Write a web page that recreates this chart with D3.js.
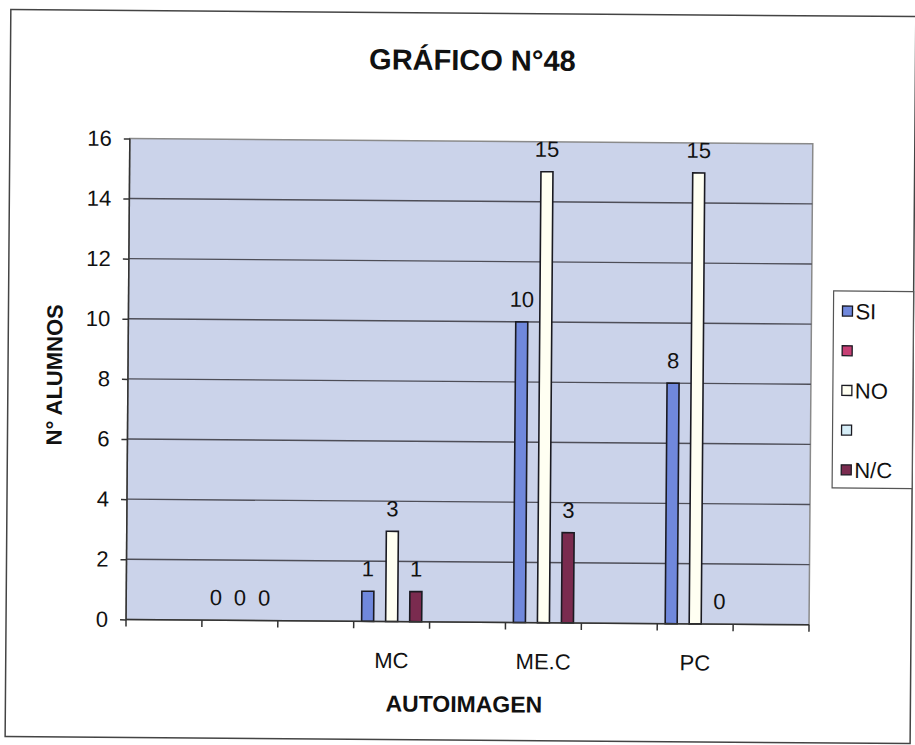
<!DOCTYPE html>
<html>
<head>
<meta charset="utf-8">
<script src="https://cdn.jsdelivr.net/npm/d3@7"></script>
<style>
  body { margin: 0; background: #fff; }
  svg text { font-family: "Liberation Sans", Arial, sans-serif; fill: #111; }
</style>
</head>
<body>
<svg class="chart" width="915" height="745"></svg>
<script>
// categories along the x axis (only three carry a label)
var categories = ["", "", "", "MC", "", "ME.C", "", "PC", ""];
var seriesNames = ["SI", "", "NO", "", "N/C"];
var seriesColors = ["#7088dc", "#c63f74", "#fffff2", "#d6eef8", "#7a2b4f"];

var siValues   = [null, 0, null, 1, null, 10, null, 8, null];
var pinkValues = [null, null, null, null, null, null, null, null, null];
var noValues   = [null, 0, null, 3, null, 15, null, 15, null];
var cyanValues = [null, null, null, null, null, null, null, null, null];
var ncValues   = [null, 0, null, 1, null, 3, null, 0, null];

var yTicks = [0, 2, 4, 6, 8, 10, 12, 14, 16];

var allSeries = [siValues, pinkValues, noValues, cyanValues, ncValues];

var svg = d3.select("svg.chart"),
    margin = {top: 141, left: 128},
    width = 683,
    height = 481;

// the scan is a little tilted
var root = svg.append("g").attr("transform", "rotate(0.45,457,372)");

root.append("rect")
    .attr("x", 8).attr("y", 13)
    .attr("width", 905).attr("height", 727)
    .attr("fill", "#fff")
    .attr("stroke", "#444")
    .attr("stroke-width", 1.5);

var g = root.append("g").attr("transform", "translate(" + margin.left + "," + margin.top + ")");

var x = d3.scaleBand()
    .domain(d3.range(categories.length))
    .range([0, width]);

var x1 = d3.scaleBand()
    .domain(d3.range(seriesNames.length))
    .range([0, x.bandwidth()])
    .paddingOuter(0.66);

var y = d3.scaleLinear()
    .domain([0, 16])
    .range([height, 0]);

g.append("rect")
    .attr("width", width)
    .attr("height", height)
    .attr("fill", "#cbd3ea")
    .attr("stroke", "#8a8a8a")
    .attr("stroke-width", 1.5);

g.append("g")
    .attr("class", "grid")
    .selectAll("line")
    .data(yTicks.slice(1, -1))
    .enter().append("line")
      .attr("x1", 0).attr("x2", width)
      .attr("y1", function(d) { return y(d); })
      .attr("y2", function(d) { return y(d); })
      .attr("stroke", "#4e4e58")
      .attr("stroke-width", 1.4);

var bars = [];
allSeries.forEach(function(vals, s) {
  vals.forEach(function(v, i) {
    if (v !== null) bars.push({s: s, i: i, v: v});
  });
});

g.selectAll(".bar")
  .data(bars)
  .enter().append("rect")
    .attr("class", "bar")
    .attr("x", function(d) { return x(d.i) + x1(d.s); })
    .attr("y", function(d) { return y(d.v); })
    .attr("width", x1.bandwidth())
    .attr("height", function(d) { return height - y(d.v); })
    .attr("fill", function(d) { return seriesColors[d.s]; })
    .attr("stroke", "#1a1a22")
    .attr("stroke-width", function(d) { return d.v ? 1.6 : 0; });

g.selectAll(".label")
  .data(bars)
  .enter().append("text")
    .attr("class", "label")
    .attr("x", function(d) { return x(d.i) + x1(d.s) + x1.bandwidth() / 2; })
    .attr("y", function(d) { return y(d.v) - 15; })
    .attr("text-anchor", "middle")
    .style("font-size", "22px")
    .text(function(d) { return d.v; });

var yAxis = g.append("g")
    .attr("class", "axis axis--y")
    .call(d3.axisLeft(y).tickValues(yTicks).tickSize(6).tickPadding(12));

var xAxis = g.append("g")
    .attr("class", "axis axis--x")
    .attr("transform", "translate(0," + height + ")")
    .call(d3.axisBottom(x).tickSize(0).tickPadding(31).tickFormat(function(i) { return categories[i]; }));

// category boundary ticks
g.append("g")
    .selectAll("line")
    .data(d3.range(categories.length + 1))
    .enter().append("line")
      .attr("x1", function(i) { return i * x.step(); })
      .attr("x2", function(i) { return i * x.step(); })
      .attr("y1", height).attr("y2", height + 7)
      .attr("stroke", "#333")
      .attr("stroke-width", 1.5);

svg.selectAll(".axis path, .axis line")
    .attr("stroke", "#333")
    .attr("stroke-width", 1.5);
yAxis.select(".domain").attr("d", "M0," + height + "V0");
xAxis.select(".domain").attr("d", "M0,0H" + width);
svg.selectAll(".axis text")
    .style("font-size", "22px")
    .style("font-family", "\"Liberation Sans\", Arial, sans-serif")
    .attr("fill", "#111");

root.append("text")
    .attr("class", "title")
    .attr("text-anchor", "middle")
    .attr("x", 470)
    .attr("y", 70)
    .style("font-size", "29px")
    .style("font-weight", "bold")
    .text("GRÁFICO N°48");

root.append("text")
    .attr("class", "x label")
    .attr("text-anchor", "middle")
    .attr("x", margin.left + width / 2 - 3)
    .attr("y", 712)
    .style("font-size", "23px")
    .style("font-weight", "bold")
    .text("AUTOIMAGEN");

root.append("text")
    .attr("class", "y label")
    .attr("text-anchor", "middle")
    .attr("transform", "translate(62,378) rotate(-90)")
    .style("font-size", "22px")
    .style("font-weight", "bold")
    .text("N° ALUMNOS");

// legend
var legend = root.append("g").attr("transform", "translate(833,288)");
legend.append("rect")
    .attr("width", 80).attr("height", 197)
    .attr("fill", "#fff")
    .attr("stroke", "#555")
    .attr("stroke-width", 1.2);

var item = legend.selectAll(".item")
  .data(seriesNames)
  .enter().append("g")
    .attr("class", "item")
    .attr("transform", function(d, i) { return "translate(9," + (20 + i * 39.7) + ")"; });

item.append("rect")
    .attr("y", -5)
    .attr("width", 10).attr("height", 10)
    .attr("fill", function(d, i) { return seriesColors[i]; })
    .attr("stroke", "#1a1a22")
    .attr("stroke-width", 1.3);

item.append("text")
    .attr("x", 13)
    .attr("y", 8)
    .style("font-size", "22px")
    .text(function(d) { return d; });
</script>
</body>
</html>
